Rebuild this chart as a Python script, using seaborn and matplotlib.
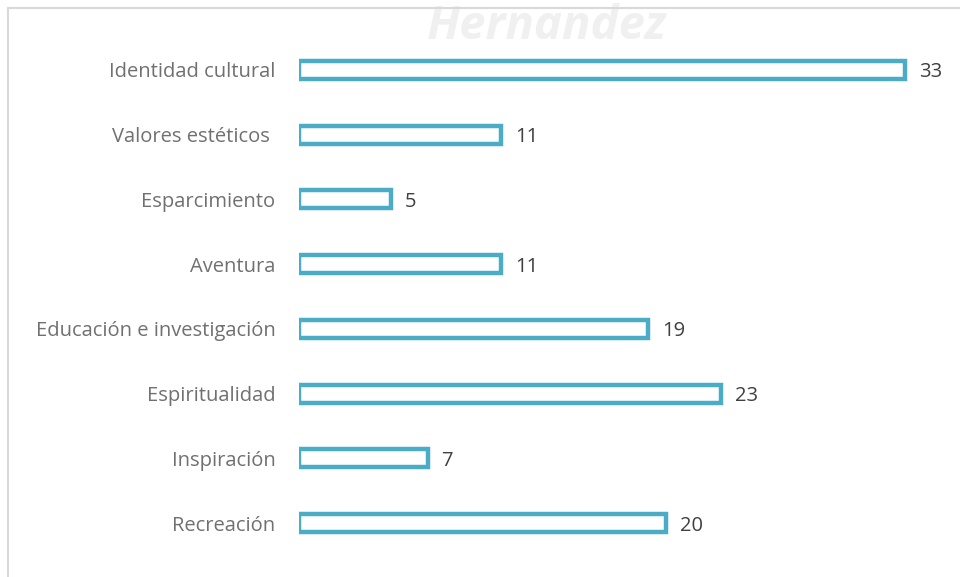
import matplotlib
matplotlib.use("Agg")
import matplotlib.pyplot as plt
import seaborn as sns
import pandas as pd

# data
categorias = ["Identidad cultural", "Valores estéticos ", "Esparcimiento", "Aventura",
              "Educación e investigación", "Espiritualidad", "Inspiración", "Recreación"]
valores = [33, 11, 5, 11, 19, 23, 7, 20]

df = pd.DataFrame({"categoria": categorias, "valor": valores})

sns.set_style("white")
plt.rcParams["font.family"] = ["Open Sans", "DejaVu Sans"]

teal = "#4BACC6"

fig = plt.figure(figsize=(9.6, 5.77), dpi=100)

# faint watermark at the top
fig.text(0.445, 0.995, "Hernandez", fontsize=34, style="italic", weight="bold",
         color="#f0f0f0", ha="left", va="top", zorder=0)

# frame lines (left and top) like the pasted chart box
fig.add_artist(plt.Line2D([8 / 960, 8 / 960], [0, 1 - 8 / 577], color="#d9d9d9", lw=1.5))
fig.add_artist(plt.Line2D([8 / 960, 1], [1 - 8 / 577, 1 - 8 / 577], color="#d9d9d9", lw=1.5))

ax = fig.add_axes([299 / 960, 0.0374, 661 / 960, 0.8974])
ax.patch.set_alpha(0)
sns.barplot(data=df, x="valor", y="categoria", orient="h", color="white",
            edgecolor=teal, linewidth=3.2, width=0.28, saturation=1, ax=ax)

ax.set_xlim(0, 36)
ax.set_ylim(7.5, -0.5)
ax.set_xlabel("")
ax.set_ylabel("")
ax.set_xticks([])
ax.tick_params(axis="y", length=0, pad=17, labelsize=14.5, labelcolor="#707070")
sns.despine(ax=ax, left=True, bottom=True)

etiquetas = ax.bar_label(ax.containers[0], labels=[str(v) for v in valores], padding=10,
                         fontsize=14.5, color="#404040")
for t in etiquetas:
    t.set_va("center_baseline")

fig.savefig("out.png", dpi=100)
